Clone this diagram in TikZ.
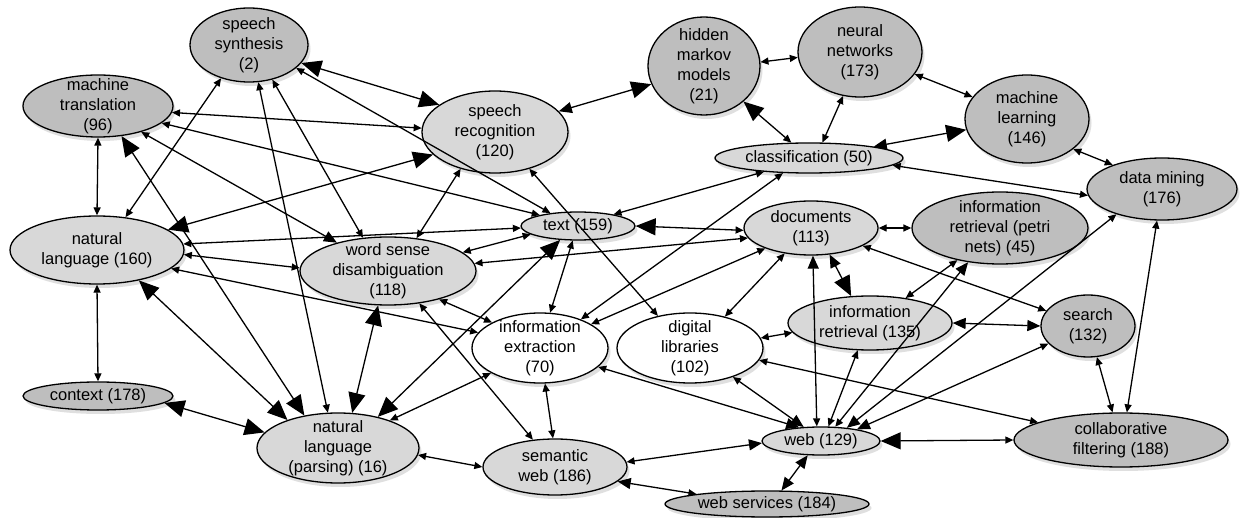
\documentclass[tikz,border=0pt]{standalone}
\usepackage{fontspec}
\setmainfont{Liberation Sans}
\usetikzlibrary{arrows.meta,shapes.geometric,shadows}
\definecolor{medgray}{RGB}{190,190,190}
\definecolor{litegray}{RGB}{216,216,216}
\tikzset{
  sm/.tip={Triangle[length=8pt,width=7pt]},
  md/.tip={Triangle[length=13pt,width=11pt]},
  bg/.tip={Triangle[length=20pt,width=17pt]},
}
\begin{document}
\begin{tikzpicture}[x=1pt,y=-1pt,
  nd/.style={ellipse,draw,line width=1.3pt,inner xsep=0pt,inner ysep=-8pt,align=center,
    font=\fontsize{16.5}{20}\selectfont,
    drop shadow={shadow xshift=2.5pt,shadow yshift=-4pt,opacity=0.25}},
  med/.style={nd,fill=medgray},
  lite/.style={nd,fill=litegray},
  wht/.style={nd,fill=white},
  e/.style={line width=1.3pt},
]
\useasboundingbox (0,0) rectangle (1243,518);
\fill[white] (0,0) rectangle (1243,518);
% nodes
\node[med, minimum width=118pt, minimum height=74pt] (ss) at (249,45) {speech\\synthesis\\(2)};
\node[med, minimum width=150pt, minimum height=62pt] (mt) at (98,106) {machine\\translation\\(96)};
\node[lite, minimum width=174pt, minimum height=68pt] (nl) at (97,250) {natural\\language (160)};
\node[med, minimum width=150pt, minimum height=28pt] (ctx) at (98,396) {context (178)};
\node[lite, minimum width=162pt, minimum height=70pt] (nlp) at (338,448) {natural\\language\\(parsing) (16)};
\node[lite, minimum width=176pt, minimum height=68pt] (wsd) at (388,271) {word sense\\disambiguation\\(118)};
\node[lite, minimum width=146pt, minimum height=82pt] (sr) at (495,132) {speech\\recognition\\(120)};
\node[med, minimum width=112pt, minimum height=98pt] (hmm) at (704,66) {hidden\\markov\\models\\(21)};
\node[med, minimum width=124pt, minimum height=90pt] (nn) at (860,52) {neural\\networks\\(173)};
\node[med, minimum width=124pt, minimum height=88pt] (ml) at (1027,119) {machine\\learning\\(146)};
\node[lite, minimum width=188pt, minimum height=30pt] (cls) at (809,158) {classification (50)};
\node[med, minimum width=150pt, minimum height=62pt] (dm) at (1162,189) {data mining\\(176)};
\node[lite, minimum width=114pt, minimum height=28pt] (txt) at (578,226) {text (159)};
\node[lite, minimum width=134pt, minimum height=54pt] (doc) at (811,228) {documents\\(113)};
\node[med, minimum width=176pt, minimum height=72pt] (irp) at (1000,228) {information\\retrieval (petri\\nets) (45)};
\node[lite, minimum width=164pt, minimum height=54pt] (ir) at (870,323) {information\\retrieval (135)};
\node[med, minimum width=94pt, minimum height=62pt] (srch) at (1088,326) {search\\(132)};
\node[wht, minimum width=136pt, minimum height=70pt] (ie) at (540,348) {information\\extraction\\(70)};
\node[wht, minimum width=146pt, minimum height=70pt] (dl) at (690,348) {digital\\libraries\\(102)};
\node[lite, minimum width=144pt, minimum height=56pt] (sw) at (555,467) {semantic\\web (186)};
\node[lite, minimum width=118pt, minimum height=28pt] (web) at (821,441) {web (129)};
\node[med, minimum width=204pt, minimum height=26pt] (ws) at (767,504) {web services (184)};
\node[med, minimum width=214pt, minimum height=54pt] (cf) at (1121,440) {collaborative\\filtering (188)};
% edges
\draw[e,bg-bg] (ss.-19) -- (sr.154);
\draw[e,sm-sm] (ss.-26) -- (txt.155);
\draw[e,sm-sm] (ss.230) -- (nl.49);
\draw[e,sm-sm] (ss.-76) -- (nlp.106);
\draw[e,sm-sm] (ss.-56) -- (wsd.127);
\draw[e,sm-sm] (mt.-5) -- (sr.177);
\draw[e,sm-sm] (mt.-15) -- (txt.164);
\draw[e,sm-md] (mt.-31) -- (wsd.151);
\draw[e,bg-bg] (mt.-52) -- (nlp.136);
\draw[e,sm-sm] (mt.south) -- (nl.north);
\draw[e,bg-bg] (nl.16) -- (sr.200);
\draw[e,sm-sm] (nl.4) -- (txt.182);
\draw[e,sm-sm] (nl.-3) -- (wsd.178);
\draw[e,sm-sm] (nl.-14) -- (ie.166);
\draw[e,bg-bg] (nl.-36) -- (nlp.151);
\draw[e,sm-sm] (nl.south) -- (ctx.north);
\draw[e,sm-sm] (wsd.49) -- (sr.-133);
\draw[e,sm-sm] (wsd.14) -- (txt.190);
\draw[e,sm-sm] (wsd.5) -- (doc.189);
\draw[e,sm-sm] (wsd.-29) -- (ie.152);
\draw[e,sm-sm] (wsd.-46) -- (sw.129);
\draw[e,bg-bg] (wsd.-106) -- (nlp.68);
\draw[e,sm-sm] (txt.18) -- (cls.197);
\draw[e,bg-sm] (txt.east) -- (doc.182);
\draw[e,sm-sm] (txt.-110) -- (ie.74);
\draw[e,bg-bg] (txt.-142) -- (nlp.38);
\draw[e,sm-sm] (sr.-47) -- (dl.135);
\draw[e,sm-sm] (cls.-150) -- (ie.35);
\draw[e,sm-sm] (doc.-156) -- (ie.25);
\draw[e,sm-sm] (ie.-153) -- (nlp.28);
\draw[e,sm-sm] (ie.-82) -- (sw.94);
\draw[e,sm-md] (ie.-18) -- (web.148);
\draw[e,sm-sm] (dl.42) -- (doc.-136);
\draw[e,sm-sm] (dl.8) -- (ir.187);
\draw[e,sm-md] (dl.-34) -- (web.141);
\draw[e,sm-sm] (dl.-10) -- (cf.168);
\draw[e,sm-sm] (doc.-19) -- (srch.160);
\draw[e,sm-sm] (doc.east) -- (irp.west);
\draw[e,md-bg] (doc.-55) -- (ir.125);
\draw[e,md-sm] (doc.-86) -- (web.106);
\draw[e,sm-md] (dm.-151) -- (web.27);
\draw[e,sm-sm] (dm.-99) -- (cf.78);
\draw[e,sm-sm] (cls.-5) -- (dm.185);
\draw[e,sm-sm] (ml.-33) -- (dm.154);
\draw[e,md-bg] (cls.10) -- (ml.190);
\draw[e,sm-sm] (nn.-22) -- (ml.158);
\draw[e,sm-sm] (hmm.4) -- (nn.185);
\draw[e,sm-sm] (nn.-111) -- (cls.49);
\draw[e,bg-sm] (hmm.-42) -- (cls.139);
\draw[e,md-bg] (sr.18) -- (hmm.199);
\draw[e,sm-sm] (irp.-143) -- (ir.35);
\draw[e,md-sm] (irp.-133) -- (web.45);
\draw[e,sm-sm] (ir.-114) -- (web.63);
\draw[e,md-md] (ir.east) -- (srch.west);
\draw[e,sm-md] (srch.-156) -- (web.18);
\draw[e,sm-sm] (srch.-74) -- (cf.107);
\draw[e,bg-sm] (web.east) -- (cf.west);
\draw[e,sm-md] (sw.4) -- (web.182);
\draw[e,md-md] (ws.43) -- (web.-133);
\draw[e,md-sm] (sw.-13) -- (ws.172);
\draw[e,sm-sm] (nlp.-5) -- (sw.180);
\draw[e,bg-bg] (ctx.-6) -- (nlp.168);
\end{tikzpicture}
\end{document}
